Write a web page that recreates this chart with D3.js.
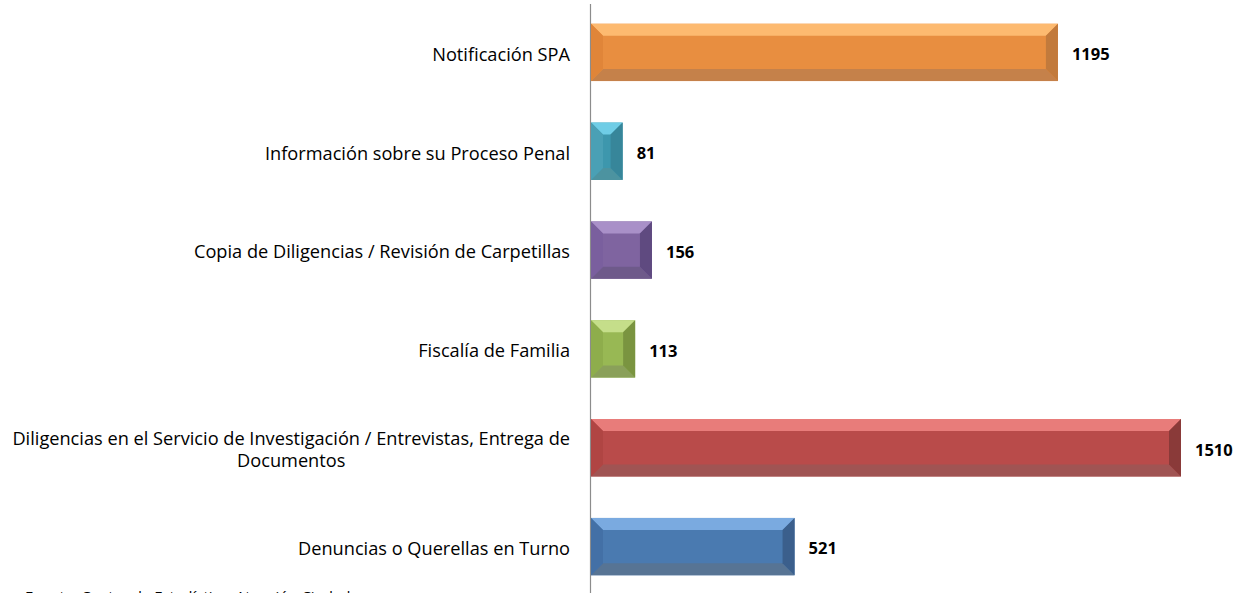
<!DOCTYPE html>
<html>
<head>
<meta charset="utf-8">
<script src="https://cdn.jsdelivr.net/npm/d3@7"></script>
<style>
  body { margin: 0; background: #fff; }
  svg { display: block; }
</style>
</head>
<body>
<svg width="1244" height="593"></svg>
<script>
// data, top to bottom as in the picture
const categories = [
  ["Notificación SPA"],
  ["Información sobre su Proceso Penal"],
  ["Copia de Diligencias / Revisión de Carpetillas"],
  ["Fiscalía de Familia"],
  ["Diligencias en el Servicio de Investigación / Entrevistas, Entrega de", "Documentos"],
  ["Denuncias o Querellas en Turno"]
];
const values = [1195, 81, 156, 113, 1510, 521];
// top, main, bottom, left, right face colours
const colors = [
  ["#FDBA70", "#E88E40", "#C5814A", "#E08539", "#C27A3C"],
  ["#6FCDE6", "#3D97AD", "#4C93A0", "#4AA0B5", "#37869A"],
  ["#A990C8", "#7F64A0", "#6E5A8A", "#7A5F9E", "#5F4A80"],
  ["#C5DE8A", "#98B854", "#8AA05A", "#8EAD4C", "#7A9440"],
  ["#E87C7A", "#B94B4A", "#A05453", "#B04543", "#8A3A39"],
  ["#7AAAE0", "#4A7AB0", "#577494", "#4370A6", "#3B5F8C"]
];
const footer = "Fuente: Centro de Estadística, Atención Ciudadana";

const font = "'Open Sans', sans-serif";
const svg = d3.select("svg");
const x0 = 591;

const x = d3.scaleLinear()
  .domain([0, 1510])
  .range([x0, 1181]);

const y = d3.scaleBand()
  .domain(d3.range(values.length))
  .range([3, 596])
  .paddingInner(0.42)
  .paddingOuter(0.21);

// axis line
svg.append("line")
  .attr("x1", 590.5).attr("x2", 590.5)
  .attr("y1", 4).attr("y2", 593)
  .attr("stroke", "#8c8c8c")
  .attr("stroke-width", 1.2);

const g = svg.append("g");

values.forEach((v, i) => {
  const xa = x(0), xb = x(v);
  const ya = y(i), yb = y(i) + y.bandwidth();
  const w = xb - xa;
  const b = Math.min(12, w * 0.38);
  const c = colors[i];
  const pts = a => a.map(p => p.join(",")).join(" ");
  const bar = g.append("g");
  bar.append("rect")
    .attr("x", xa).attr("y", ya)
    .attr("width", w).attr("height", yb - ya)
    .attr("fill", c[1]);
  // top
  bar.append("polygon").attr("fill", c[0])
    .attr("points", pts([[xa, ya], [xb, ya], [xb - b, ya + b], [xa + b, ya + b]]));
  // bottom
  bar.append("polygon").attr("fill", c[2])
    .attr("points", pts([[xa, yb], [xb, yb], [xb - b, yb - b], [xa + b, yb - b]]));
  // left
  bar.append("polygon").attr("fill", c[3])
    .attr("points", pts([[xa, ya], [xa + b, ya + b], [xa + b, yb - b], [xa, yb]]));
  // right
  bar.append("polygon").attr("fill", c[4])
    .attr("points", pts([[xb, ya], [xb - b, ya + b], [xb - b, yb - b], [xb, yb]]));

  // value label
  g.append("text")
    .attr("x", xb + 14)
    .attr("y", y(i) + y.bandwidth() / 2 + 2)
    .attr("dy", "0.35em")
    .attr("font-family", font)
    .attr("font-weight", "bold")
    .attr("font-size", 16.5)
    .attr("fill", "#000")
    .text(v);
});

// category labels
categories.forEach((lines, i) => {
  const cy = y(i) + y.bandwidth() / 2 + 2;
  const t = svg.append("text")
    .attr("font-family", font)
    .attr("font-size", 18.2)
    .attr("fill", "#000");
  const lh = 22;
  const tspans = lines.map((s, k) => t.append("tspan")
    .attr("y", cy + (k - (lines.length - 1) / 2) * lh)
    .attr("dy", "0.35em")
    .text(s));
  const maxW = d3.max(tspans, ts => ts.node().getComputedTextLength());
  const right = 570;
  tspans.forEach(ts => ts.attr("x", right - maxW / 2).attr("text-anchor", "middle"));
});

svg.append("text")
  .attr("x", 25).attr("y", 602)
  .attr("font-family", font)
  .attr("font-size", 15)
  .attr("fill", "#000")
  .text(footer);
</script>
</body>
</html>
